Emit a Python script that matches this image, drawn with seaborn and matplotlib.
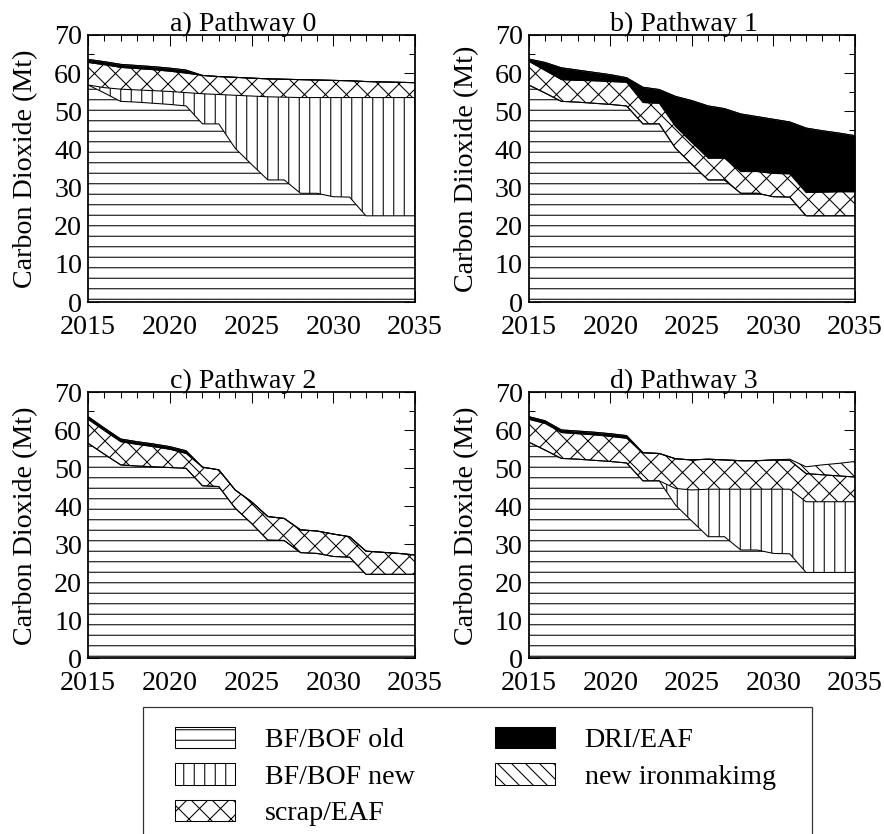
import numpy as np
import pandas as pd
import matplotlib
matplotlib.use("Agg")
import matplotlib.pyplot as plt
import matplotlib.patches as mpatches
from matplotlib.ticker import MultipleLocator
import seaborn as sns

# ---------------- data ----------------
years = list(range(2015, 2036))

layer_names = ["BF/BOF old", "BF/BOF new", "scrap/EAF", "DRI/EAF", "new ironmakimg"]

# Pathway 0
p0_old = [56.9, 54.8, 52.6, 52.4, 52.1, 51.8, 51.4, 46.7, 46.7, 40.3, 36.1,
          32.0, 32.0, 28.5, 28.5, 27.6, 27.5, 22.6, 22.6, 22.6, 22.6]
p0_new = [0.0, 1.4, 3.2, 3.2, 3.3, 3.4, 3.5, 7.9, 7.7, 13.9, 17.9,
          21.8, 21.7, 25.1, 25.1, 26.0, 26.1, 31.0, 31.0, 31.0, 31.0]
p0_scrap = [5.9, 6.0, 5.7, 5.6, 5.5, 5.3, 5.1, 4.8, 4.7, 4.7, 4.7,
            4.7, 4.7, 4.7, 4.6, 4.5, 4.4, 4.2, 4.1, 4.0, 3.9]
p0_dri = [0.8, 0.8, 0.8, 0.8, 0.8, 0.8, 0.8, 0.0, 0.0, 0.0, 0.0,
          0.0, 0.0, 0.0, 0.0, 0.0, 0.0, 0.0, 0.0, 0.0, 0.0]
p0_iron = [0.0] * 21

# Pathway 1
p1_old = [56.9, 54.8, 52.6, 52.4, 52.1, 51.8, 51.4, 46.7, 46.7, 40.3, 36.1,
          32.0, 32.0, 28.5, 28.5, 27.6, 27.5, 22.6, 22.6, 22.6, 22.6]
p1_new = [0.0] * 21
p1_scrap = [6.2, 5.9, 5.7, 5.7, 5.9, 6.0, 6.2, 5.6, 5.4, 5.7, 5.7,
            5.7, 5.7, 5.7, 5.7, 6.1, 6.1, 6.1, 6.2, 6.3, 6.3]
p1_dri = [0.6, 2.1, 3.1, 2.7, 2.2, 1.8, 1.2, 4.0, 3.6, 7.9, 11.0,
          13.7, 13.0, 15.1, 14.4, 14.2, 13.6, 16.9, 16.1, 15.4, 14.7]
p1_iron = [0.0] * 21

# Pathway 2
p2_old = [56.6, 53.7, 50.9, 50.6, 50.4, 50.2, 50.0, 45.4, 45.2, 39.5, 35.5,
          31.1, 31.0, 27.8, 27.6, 26.8, 26.6, 22.1, 22.1, 22.1, 22.1]
p2_new = [0.0] * 21
p2_scrap = [6.3, 6.2, 6.1, 5.7, 5.3, 4.8, 3.9, 4.9, 4.4, 4.8, 5.7,
            6.2, 5.8, 6.0, 5.9, 5.9, 5.4, 6.1, 5.8, 5.5, 5.1]
p2_dri = [0.7, 0.7, 0.7, 0.7, 0.7, 0.7, 0.7, 0.0, 0.0, 0.0, 0.0,
          0.0, 0.0, 0.0, 0.0, 0.0, 0.0, 0.0, 0.0, 0.0, 0.0]
p2_iron = [0.0] * 21

# Pathway 3
p3_old = [56.9, 54.8, 52.6, 52.4, 52.1, 51.8, 51.4, 46.7, 46.7, 40.3, 36.1,
          32.0, 32.0, 28.5, 28.5, 27.6, 27.5, 22.6, 22.6, 22.6, 22.6]
p3_new = [0.0, 0.0, 0.0, 0.0, 0.0, 0.0, 0.0, 0.0, 0.0, 4.4, 8.2,
          12.5, 12.5, 16.0, 16.0, 16.9, 17.0, 18.6, 18.6, 18.6, 18.6]
p3_scrap = [6.0, 7.0, 6.8, 6.7, 6.7, 6.6, 6.5, 7.4, 7.2, 7.8, 7.9,
            7.9, 7.7, 7.5, 7.5, 7.7, 7.6, 7.4, 7.1, 6.8, 6.5]
p3_dri = [0.7, 0.7, 0.7, 0.7, 0.7, 0.7, 0.7, 0.0, 0.0, 0.0, 0.0,
          0.0, 0.0, 0.0, 0.0, 0.0, 0.0, 0.0, 0.0, 0.0, 0.0]
p3_iron = [0.0, 0.0, 0.0, 0.0, 0.0, 0.0, 0.0, 0.0, 0.0, 0.0, 0.0,
           0.0, 0.0, 0.0, 0.0, 0.0, 0.3, 1.8, 2.6, 3.3, 4.1]

panel_titles = ["a) Pathway 0", "b) Pathway 1", "c) Pathway 2", "d) Pathway 3"]
panel_ylabels = ["Carbon Dioxide (Mt)", "Carbon Diioxide (Mt)",
                 "Carbon Dioxide (Mt)", "Carbon Dioxide (Mt)"]
panel_data = [
    [p0_old, p0_new, p0_scrap, p0_dri, p0_iron],
    [p1_old, p1_new, p1_scrap, p1_dri, p1_iron],
    [p2_old, p2_new, p2_scrap, p2_dri, p2_iron],
    [p3_old, p3_new, p3_scrap, p3_dri, p3_iron],
]
xtick_labels = ["2015", "2020", "2025", "2030", "2035"]

# ---------------- styles ----------------
hatches = ["--", "||", "xx", None, "\\\\\\"]
faces = ["white", "white", "white", "black", "white"]

sns.set_theme(style="ticks")
plt.rcParams["font.family"] = ["Liberation Serif", "DejaVu Serif"]
plt.rcParams["hatch.linewidth"] = 0.6
plt.rcParams["hatch.color"] = "black"
plt.rcParams["axes.edgecolor"] = "black"
plt.rcParams["axes.linewidth"] = 1.0
plt.rcParams["text.color"] = "black"
plt.rcParams["axes.labelcolor"] = "black"
plt.rcParams["xtick.color"] = "black"
plt.rcParams["ytick.color"] = "black"

DPI = 126
W, H = 884, 834
fig = plt.figure(figsize=(W / DPI, H / DPI), dpi=DPI)
fig.patch.set_facecolor("white")

def fx(px):
    return px / W

def fy(py):
    return 1 - py / H

positions = [
    (88, 35, 415, 302),
    (528.7, 35, 855, 302),
    (88, 392.3, 415, 658.3),
    (528.7, 392.3, 855, 658.3),
]

FS = 16
for i, (l, t, r, b) in enumerate(positions):
    ax = fig.add_axes([fx(l), fy(b), (r - l) / W, (b - t) / H])
    ax.set_facecolor("white")
    df = pd.DataFrame({name: vals for name, vals in zip(layer_names, panel_data[i])})
    df["year"] = years
    lower = np.zeros(len(years))
    for k, name in enumerate(layer_names):
        upper = lower + df[name].to_numpy()
        ax.fill_between(df["year"], lower, upper, facecolor=faces[k],
                        edgecolor="black", hatch=hatches[k], linewidth=0,
                        zorder=1 + k * 0.01)
        top = pd.DataFrame({"year": years, "v": upper})
        sns.lineplot(data=top, x="year", y="v", ax=ax, color="black",
                     linewidth=0.6, estimator=None, legend=False, zorder=3)
        lower = upper
    ax.set_xlim(2015, 2035)
    ax.set_ylim(0, 70)
    ax.xaxis.set_major_locator(MultipleLocator(5))
    ax.xaxis.set_minor_locator(MultipleLocator(1))
    ax.yaxis.set_major_locator(MultipleLocator(10))
    ax.yaxis.set_minor_locator(MultipleLocator(5))
    ax.set_xticks([int(s) for s in xtick_labels])
    ax.set_xticklabels(xtick_labels)
    ax.tick_params(which="both", direction="in", top=True, right=True,
                   width=0.6, labelsize=FS)
    ax.tick_params(which="major", length=6.5)
    ax.tick_params(which="minor", length=3.5)
    ax.tick_params(axis="x", which="major", pad=7.5)
    ax.tick_params(axis="y", which="major", pad=3.4)
    ax.set_xlabel("")
    ax.set_ylabel(panel_ylabels[i], fontsize=FS, labelpad=9)
    ax.set_title(panel_titles[i], fontsize=FS, x=0.475, y=1.0, pad=2.5)
    for sp in ax.spines.values():
        sp.set_linewidth(1.0)
        sp.set_color("black")
        sp.set_zorder(5)

# ---------------- legend ----------------
box = mpatches.Rectangle((fx(143), fy(900)), (812 - 143) / W, (900 - 707) / H,
                         transform=fig.transFigure, facecolor="white",
                         edgecolor="#333333", linewidth=0.7, clip_on=False)
fig.patches.append(box)

handles = [mpatches.Patch(facecolor=faces[k], edgecolor="black", hatch=hatches[k],
                          linewidth=0.6, label=layer_names[k])
           for k in range(len(layer_names))]
fig.legend(handles=handles, labels=layer_names, ncol=2, loc="upper left",
           bbox_to_anchor=(fx(175), fy(727)), frameon=False, borderpad=0,
           borderaxespad=0, fontsize=FS, handlelength=60 / 28,
           handleheight=22 / 28, handletextpad=30 / 28, labelspacing=0.36,
           columnspacing=2.85)

fig.savefig("out.png", dpi=DPI, facecolor="white")
